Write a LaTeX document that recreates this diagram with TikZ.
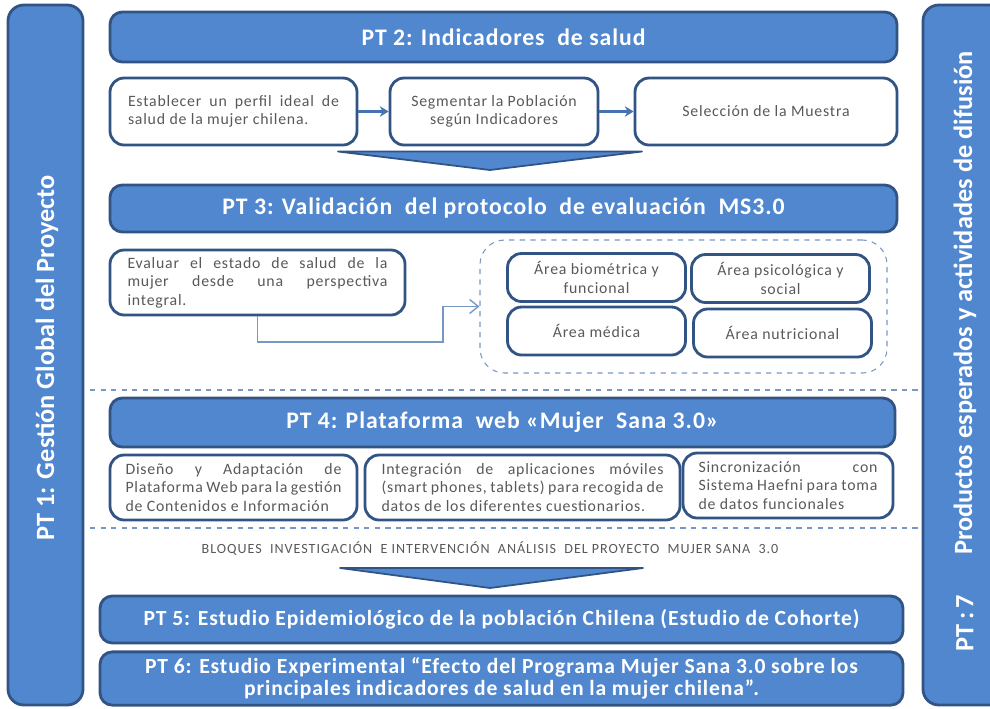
\documentclass[tikz,border=0pt]{standalone}
\usepackage{fontspec}
\setmainfont{Carlito}
\newfontfamily\bodyfont[LetterSpace=5]{Carlito}
\newfontfamily\headfont[LetterSpace=4]{Carlito}
\newfontfamily\capsfont[LetterSpace=7]{Carlito}
\usepackage{tikz}
\usetikzlibrary{arrows.meta,positioning,fit}
\definecolor{ptblue}{RGB}{80,135,207}
\definecolor{ptedge}{RGB}{50,84,132}
\definecolor{boxtext}{RGB}{89,89,89}
\definecolor{linkblue}{RGB}{120,152,196}

\begin{document}
\begin{tikzpicture}
  \tikzset{
    header/.style={draw=ptedge,fill=ptblue,line width=1.6pt,rounded corners=7pt,text=white,align=center,font=\headfont\fontsize{13.5}{15}\selectfont\bfseries},
    sidebar/.style={draw=ptedge,fill=ptblue,line width=1.6pt,rounded corners=9pt},
    sidetext/.style={rotate=90,text=white,font=\fontsize{15}{17}\selectfont\bfseries},
    task/.style={draw=ptedge,fill=white,line width=1.6pt,rounded corners=8pt,text=boxtext,inner sep=0pt,font=\bodyfont\fontsize{9}{10.5}\selectfont},
    jtask/.style={task,align=justify},
    area/.style={task,align=center,minimum width=3.56cm,minimum height=0.96cm},
    flow/.style={-{Stealth[length=5pt,width=6pt]},ptblue!85!black,line width=1.3pt},
    link/.style={-{Straight Barb[length=5pt,width=8pt]},linkblue,line width=0.8pt},
    chevron/.style={fill=ptblue,draw=ptedge,line width=1pt,line join=round},
    sepline/.style={dashed,linkblue,line width=0.6pt}
  }
  \useasboundingbox (0,0) rectangle (19.8,-14.16);
  \clip (0,0) rectangle (19.8,-14.16);

  \node[sidebar,minimum width=1.5cm,minimum height=14cm] (pt1) at (0.91,-7.1) {};
  \node[sidetext] (pt1txt) at (0.94,-7.16) {PT 1: Gestión Global del Proyecto};
  \node[sidebar,minimum width=1.64cm,minimum height=14cm] (pt7) at (19.28,-7.1) {};
  \node[sidetext] (pt7txt) at (19.3,-6.06) {Productos esperados y actividades de difusión};
  \node[sidetext] (pt7num) at (19.3,-12.46) {PT\,:\,7};

  \node[header,minimum width=15.74cm,minimum height=1cm] (pt2) at (10.07,-0.74) {PT 2: Indicadores\ \ de salud};
  \node[jtask,minimum width=4.94cm,minimum height=1.34cm,text width=4.22cm] (perfil) at (4.67,-2.23) {Establecer un perfil ideal de\linebreak salud de la mujer chilena.};
  \node[task,align=center,minimum width=4.16cm,minimum height=1.34cm] (segm) at (9.88,-2.23) {Segmentar la Población\\según Indicadores};
  \node[task,align=center,minimum width=5.24cm,minimum height=1.34cm] (muestra) at (15.32,-2.23) {Selección de la Muestra};
  \draw[flow] (perfil) -- (segm);
  \draw[flow] (segm) -- (muestra);
  \draw[chevron] (6.76,-3.03) -- (12.84,-3.03) -- (9.8,-3.4) -- cycle;

  \node[header,minimum width=15.74cm,minimum height=0.94cm] (pt3) at (10.07,-4.17) {PT 3: Validación\ \ del protocolo\ \ de evaluación\ \ MS3.0};
  \node[jtask,minimum width=5.9cm,minimum height=1.3cm,text width=5.2cm] (eval) at (5.15,-5.65) {Evaluar el estado de salud de la\linebreak mujer desde una perspectiva\linebreak integral.};
  \node[draw=linkblue,dashed,line width=0.6pt,rounded corners=14pt,minimum width=8.14cm,minimum height=2.66cm] (areas) at (13.67,-6.13) {};
  \node[area] (biom) at (11.93,-5.55) {Área biométrica y\\funcional};
  \node[area] (psico) at (15.61,-5.57) {Área psicológica y\\social};
  \node[area] (medica) at (11.93,-6.62) {Área médica};
  \node[area] (nutri) at (15.65,-6.66) {Área nutricional};
  \draw[link] (eval.south) |- (8.86,-6.84) |- (areas.west);

  \coordinate (sepA1) at (1.8,-7.8);
  \coordinate (sepA2) at (18.4,-7.8);
  \draw[sepline] (sepA1) -- (sepA2);

  \node[header,minimum width=15.7cm,minimum height=0.98cm] (pt4) at (10.05,-8.45) {PT 4: Plataforma\ \ web «Mujer\ \ Sana 3.0»};
  \node[jtask,minimum width=4.94cm,minimum height=1.3cm,text width=4.32cm] (diseno) at (4.67,-9.75) {Diseño y Adaptación de\linebreak Plataforma Web para la gestión\linebreak de Contenidos e Información};
  \node[jtask,minimum width=6.3cm,minimum height=1.3cm,text width=5.64cm] (integ) at (10.45,-9.75) {Integración de aplicaciones móviles\linebreak (smart phones, tablets) para recogida de\linebreak datos de los diferentes cuestionarios.};
  \node[jtask,minimum width=4.2cm,minimum height=1.3cm,text width=3.58cm] (sincro) at (15.76,-9.71) {Sincronización con\linebreak Sistema Haefni para toma\linebreak de datos funcionales};

  \coordinate (sepB1) at (1.8,-10.56);
  \coordinate (sepB2) at (18.4,-10.56);
  \draw[sepline] (sepB1) -- (sepB2);

  \node[text=boxtext,font=\capsfont\fontsize{8}{10}\selectfont] (bloques) at (9.8,-10.98) {BLOQUES\ \ INVESTIGACIÓN\ \ E INTERVENCIÓN\ \ ANÁLISIS\ \ DEL PROYECTO\ \ MUJER SANA\ \ 3.0};
  \draw[chevron] (6.8,-11.36) -- (12.86,-11.36) -- (9.8,-11.76) -- cycle;

  \node[header,minimum width=16.06cm,minimum height=0.94cm,font=\headfont\fontsize{12.3}{14}\selectfont\bfseries] (pt5) at (10.03,-12.39) {PT 5: Estudio Epidemiológico de la población Chilena (Estudio de Cohorte)};
  \node[header,minimum width=16.06cm,minimum height=1.06cm,font=\headfont\fontsize{12.3}{12.5}\selectfont\bfseries] (pt6) at (10.03,-13.57) {PT 6: Estudio Experimental “Efecto del Programa Mujer Sana 3.0 sobre los\\principales indicadores de salud en la mujer chilena”.};
\end{tikzpicture}
\end{document}
